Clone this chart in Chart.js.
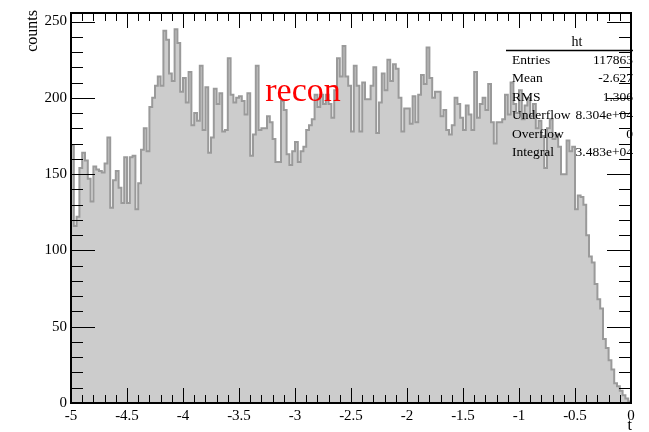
<!DOCTYPE html>
<html>
<head>
<meta charset="utf-8">
<script src="https://cdn.jsdelivr.net/npm/chart.js@4/dist/chart.umd.min.js"></script>
<style>
  html, body { margin: 0; padding: 0; background: #fff; overflow: hidden; }
  canvas { display: block; }
</style>
</head>
<body>
<canvas id="c" width="649" height="432"></canvas>
<script>
// Histogram "ht": 200 bins of t between -5 and 0
const histLow = -5;
const histHigh = 0;
const counts = [
  169,116,122,154,164,159,147,132,155,153, 152,151,157,174,128,146,152,141,131,161,
  131,161,162,127,144,166,180,165,194,200, 208,214,208,244,238,216,211,245,236,204,
  213,197,217,182,190,185,221,179,207,164, 174,206,196,203,178,179,226,202,197,200,
  201,198,189,203,162,176,221,179,180,180, 188,184,173,158,158,198,192,163,156,165,
  171,158,165,168,179,182,186,202,194,202, 196,202,196,187,205,226,214,234,214,208,
  178,221,208,178,210,199,199,208,220,177, 197,216,205,225,211,222,219,200,178,193,
  193,183,201,184,202,215,209,233,213,200, 204,204,188,192,179,176,182,200,196,187,
  179,195,189,179,217,187,196,200,192,209, 184,170,184,184,186,202,189,210,196,190,
  205,186,195,200,188,196,180,185,175,154, 180,186,173,176,168,150,150,172,165,168,
  127,136,135,130,110, 96, 92, 78, 68, 62,  42, 36, 28, 22, 13, 11,  8,  5,  3,  1
];

// Statistics box
const histName = 'ht';
const statsNames = ['Entries', 'Mean', 'RMS', 'Underflow', 'Overflow', 'Integral'];
const statsValues = ['117863', '-2.627', '1.306', '8.304e+04', '0', '3.483e+04'];

const xTitle = 't';
const yTitle = 'counts';
const tagText = 'recon';
const yTop = 255.6;

const SERIF = "'Liberation Serif', 'Times New Roman', serif";

// Outline points at the low edge of every bin, stepped so each bin is flat
const binWidth = (histHigh - histLow) / counts.length;
const outline = [{ x: histLow, y: 0 }];
counts.forEach((c, i) => outline.push({ x: histLow + i * binWidth, y: c }));
outline.push({ x: histHigh, y: counts[counts.length - 1] });
outline.push({ x: histHigh, y: 0 });

// Frame, inward ticks, titles, stats box and tag
const rootDecor = {
  id: 'rootDecor',
  afterDraw(chart) {
    const { ctx, chartArea: a, scales: { x, y } } = chart;
    ctx.save();
    ctx.strokeStyle = '#000';
    ctx.lineWidth = 1;
    ctx.beginPath();
    for (let k = 0; k <= 50; k++) {
      const px = Math.round(x.getPixelForValue(histLow + k * 0.1)) + 0.5;
      const len = k % 5 === 0 ? 15 : 8;
      ctx.moveTo(px, a.bottom); ctx.lineTo(px, a.bottom - len);
      ctx.moveTo(px, a.top); ctx.lineTo(px, a.top + len);
    }
    for (let k = 0; k * 10 <= yTop; k++) {
      const py = Math.round(y.getPixelForValue(k * 10)) + 0.5;
      const len = k % 5 === 0 ? 24 : 12;
      ctx.moveTo(a.left, py); ctx.lineTo(a.left + len, py);
      ctx.moveTo(a.right, py); ctx.lineTo(a.right - len, py);
    }
    ctx.stroke();

    ctx.lineWidth = 2;
    ctx.strokeRect(a.left, a.top, a.right - a.left, a.bottom - a.top);

    ctx.fillStyle = '#000';
    // axis titles
    ctx.font = '16px ' + SERIF;
    ctx.textAlign = 'right';
    ctx.textBaseline = 'middle';
    ctx.fillText(xTitle, a.right + 1, 426);
    ctx.save();
    ctx.translate(33, a.top - 3);
    ctx.rotate(-Math.PI / 2);
    ctx.textAlign = 'right';
    ctx.fillText(yTitle, 0, 0);
    ctx.restore();

    // stats box
    ctx.font = '14px ' + SERIF;
    ctx.textAlign = 'center';
    ctx.fillText(histName, 577, 42);
    ctx.lineWidth = 1.5;
    ctx.beginPath();
    ctx.moveTo(506, 50.5); ctx.lineTo(a.right + 2, 50.5);
    ctx.stroke();
    ctx.font = '13.5px ' + SERIF;
    statsNames.forEach((name, i) => {
      const ty = 60 + i * 18.5;
      ctx.textAlign = 'left';
      ctx.fillText(name, 512, ty);
      ctx.textAlign = 'right';
      ctx.fillText(statsValues[i], 633, ty);
    });

    // tag
    ctx.fillStyle = '#ff0000';
    ctx.font = '34px ' + SERIF;
    ctx.textAlign = 'center';
    ctx.fillText(tagText, 303, 92);
    ctx.restore();
  }
};

new Chart(document.getElementById('c'), {
  type: 'line',
  data: {
    datasets: [{
      data: outline,
      stepped: 'before',
      fill: 'origin',
      backgroundColor: '#cccccc',
      borderColor: '#9a9a9a',
      borderWidth: 2,
      pointRadius: 0,
      tension: 0
    }]
  },
  options: {
    responsive: false,
    animation: false,
    devicePixelRatio: 1,
    layout: { padding: { top: 13, right: 18, left: 0, bottom: 0 } },
    plugins: { legend: { display: false }, tooltip: { enabled: false } },
    scales: {
      x: {
        type: 'linear',
        min: histLow,
        max: histHigh,
        grid: { display: false, drawTicks: false },
        border: { display: false },
        afterFit(s) { s.height = 29; },
        ticks: {
          stepSize: 0.5,
          autoSkip: false,
          maxRotation: 0,
          padding: 4,
          color: '#000',
          font: { family: SERIF, size: 15 },
          callback: v => String(Math.round(v * 10) / 10)
        }
      },
      y: {
        type: 'linear',
        min: 0,
        max: yTop,
        grid: { display: false, drawTicks: false },
        border: { display: false },
        afterFit(s) { s.width = 71; },
        ticks: {
          stepSize: 50,
          includeBounds: false,
          padding: 4,
          color: '#000',
          font: { family: SERIF, size: 15 },
          callback: v => String(v)
        }
      }
    }
  },
  plugins: [rootDecor]
});
</script>
</body>
</html>
